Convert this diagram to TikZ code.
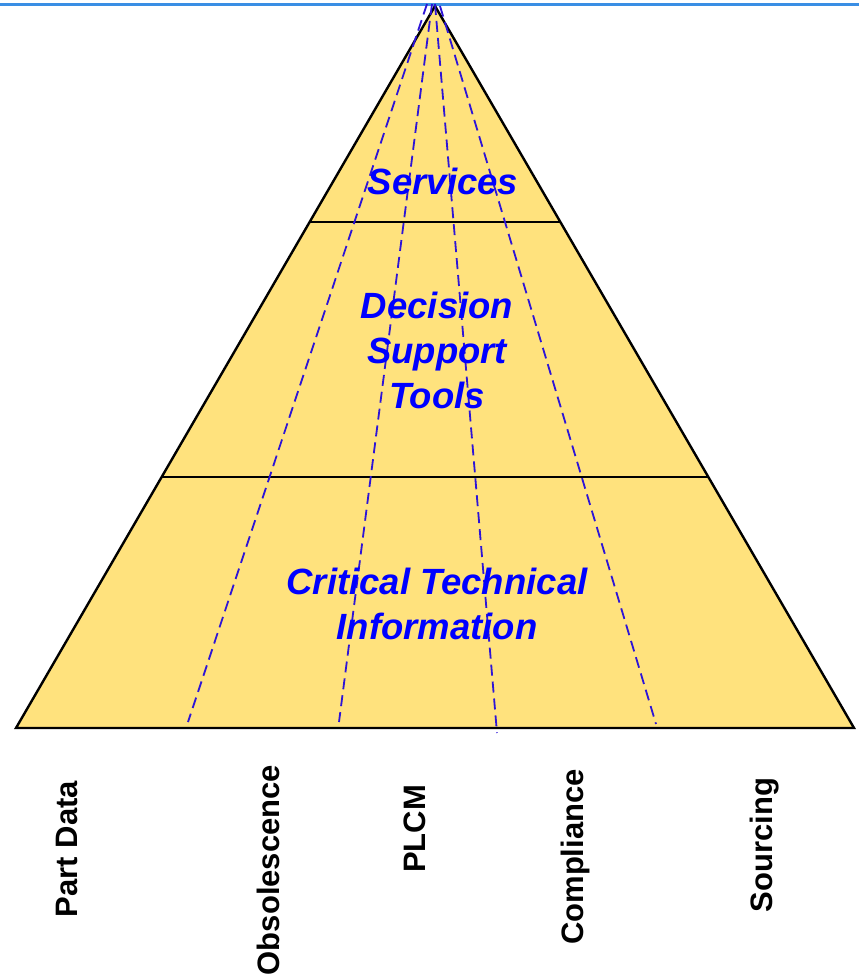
\documentclass[tikz,border=0pt]{standalone}
\usepackage{fontspec}
\setmainfont{Liberation Sans}
\usetikzlibrary{calc}

\definecolor{pyrfill}{RGB}{255,226,125}
\definecolor{topline}{RGB}{58,142,228}
\definecolor{splitblue}{RGB}{45,20,215}
\definecolor{layerblue}{RGB}{0,0,255}

\begin{document}
\begin{tikzpicture}[x=1pt,y=-1pt,
  layer/.style={text=layerblue, font=\fontsize{36.5}{45}\selectfont\bfseries\itshape, align=center},
  area/.style={font=\fontsize{31}{36}\selectfont\bfseries, rotate=90},
  split/.style={draw=splitblue, line width=1.8pt, dash pattern=on 11pt off 6pt}]
\useasboundingbox (0,0) rectangle (859,976);

% top rule
\draw[topline, line width=3.5pt] (0,4.5) -- (859,4.5);

% pyramid
\coordinate (apex) at (435,6);
\coordinate (baseL) at (16,728);
\coordinate (baseR) at (854,728);
\filldraw[fill=pyrfill, line width=2.4pt] (apex) -- (baseL) -- (baseR) -- cycle;

% layer borders
\coordinate (upL) at ($(apex)!0.2992!(baseL)$);
\coordinate (upR) at ($(apex)!0.2992!(baseR)$);
\coordinate (lowL) at ($(apex)!0.6524!(baseL)$);
\coordinate (lowR) at ($(apex)!0.6524!(baseR)$);
\draw[line width=2.2pt] (upL) -- (upR);
\draw[line width=2.2pt] (lowL) -- (lowR);

% dashed split lines
\draw[split] (427,4) -- (188,722);
\draw[split] (432,4) -- (339,722);
\draw[split] (435,4) -- (497,733);
\draw[split] (440,6) -- (656,724);

% layer names
\node[layer] (services) at (443,181) {Services};
\node[layer] (tools) at (437,350) {Decision\\Support\\Tools};
\node[layer] (info) at (437,604) {Critical Technical\\Information};

% areas along the base
\node[area] (partdata) at (67,849) {Part Data};
\node[area] (obsol) at (268,870) {Obsolescence};
\node[area] (plcm) at (415,829) {PLCM};
\node[area] (compl) at (575,857) {Compliance};
\node[area] (sourcing) at (765,845) {Sourcing};

\end{tikzpicture}
\end{document}
